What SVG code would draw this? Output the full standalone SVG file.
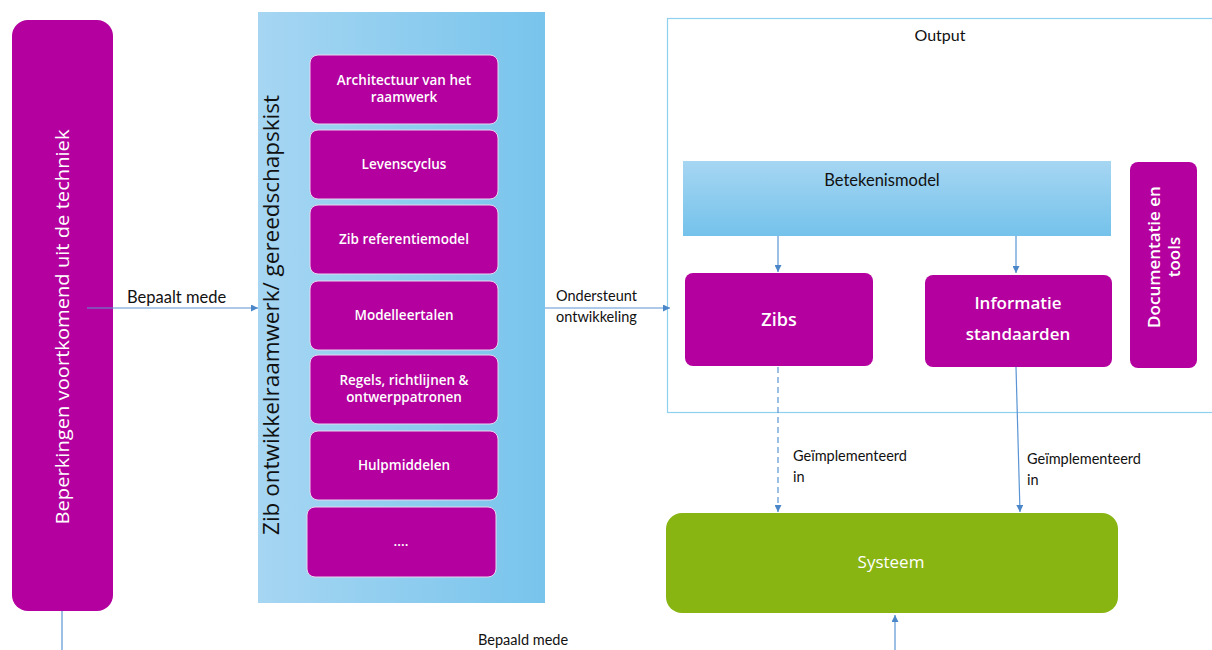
<svg xmlns="http://www.w3.org/2000/svg" width="1212" height="650" viewBox="0 0 1212 650">
<defs>
<linearGradient id="gH" x1="0" y1="0" x2="1" y2="0"><stop offset="0" stop-color="#a6d6f2"/><stop offset="1" stop-color="#78c4ec"/></linearGradient>
<linearGradient id="gV" x1="0" y1="0" x2="0" y2="1"><stop offset="0" stop-color="#a6d6f2"/><stop offset="1" stop-color="#74c2eb"/></linearGradient>
<marker id="ah" viewBox="0 0 10 10" refX="10" refY="5" markerWidth="7" markerHeight="7" markerUnits="userSpaceOnUse" orient="auto"><path d="M0,0 L10,5 L0,10 z" fill="#4a86c8"/></marker>
<style>
.p{fill:#b4009e}
.w{fill:#fff;font-family:"Open Sans","Noto Sans",sans-serif;text-anchor:middle}
.s{font-weight:600}
.b{fill:#111;font-family:Lato,"Liberation Sans",sans-serif}
.c{stroke:#5a94d4;stroke-width:1.2;fill:none;marker-end:url(#ah)}
.in{stroke:#e8d6f0;stroke-width:1}
</style>
</defs>
<rect width="1212" height="650" fill="#fff"/>

<g id="output-frame">
<rect x="667.5" y="18.5" width="560" height="394" fill="none" stroke="#8fd0ee" stroke-width="1.2"/>
<text class="b" x="940" y="41" font-size="16" text-anchor="middle">Output</text>
</g>

<g id="beperkingen">
<rect class="p" x="12" y="20" width="101" height="591" rx="16"/>
<text class="w" font-size="19" textLength="395" lengthAdjust="spacingAndGlyphs" transform="translate(69,327) rotate(-90)">Beperkingen voortkomend uit de techniek</text>
</g>

<g id="raamwerk">
<rect x="258" y="12" width="287" height="591" fill="url(#gH)"/>
<text fill="#111" font-family="'Open Sans','Noto Sans',sans-serif" font-size="21" textLength="440" lengthAdjust="spacingAndGlyphs" text-anchor="middle" transform="translate(279,315) rotate(-90)">Zib ontwikkelraamwerk/ gereedschapskist</text>
</g>

<g id="architectuur"><rect class="p in" x="310" y="55" width="188" height="69" rx="8"/><text class="w s" font-size="13.5"><tspan x="404" y="85">Architectuur van het</tspan><tspan x="404" y="102">raamwerk</tspan></text></g>
<g id="levenscyclus"><rect class="p in" x="310" y="130" width="188" height="69" rx="8"/><text class="w s" font-size="13.5" x="404" y="169">Levenscyclus</text></g>
<g id="referentiemodel"><rect class="p in" x="310" y="205" width="188" height="69" rx="8"/><text class="w s" font-size="13.5" x="404" y="244">Zib referentiemodel</text></g>
<g id="modelleertalen"><rect class="p in" x="310" y="281" width="188" height="69" rx="8"/><text class="w s" font-size="13.5" x="404" y="320">Modelleertalen</text></g>
<g id="regels"><rect class="p in" x="310" y="355" width="188" height="69" rx="8"/><text class="w s" font-size="13.5"><tspan x="404" y="385">Regels, richtlijnen &amp;</tspan><tspan x="404" y="402">ontwerppatronen</tspan></text></g>
<g id="hulpmiddelen"><rect class="p in" x="310" y="431" width="188" height="69" rx="8"/><text class="w s" font-size="13.5" x="404" y="470">Hulpmiddelen</text></g>
<g id="meer"><rect class="p in" x="307" y="507" width="189" height="70" rx="8"/><text class="w s" font-size="13.5" x="401" y="546">....</text></g>

<g id="betekenismodel">
<rect x="683" y="161" width="428" height="75" fill="url(#gV)"/>
<text class="b" x="882" y="186" font-size="16.5" text-anchor="middle">Betekenismodel</text>
</g>
<g id="zibs"><rect class="p" x="685" y="273" width="188" height="93" rx="8"/><text class="w s" font-size="18" x="779" y="326">Zibs</text></g>
<g id="informatiestandaarden"><rect class="p" x="925" y="275" width="187" height="92" rx="8"/><text class="w s" font-size="17"><tspan x="1018" y="309">Informatie</tspan><tspan x="1018" y="340">standaarden</tspan></text></g>
<g id="documentatie"><rect class="p" x="1130" y="162" width="67" height="206" rx="8"/><text class="w s" font-size="17" transform="translate(1164,257) rotate(-90)"><tspan x="0" y="-4">Documentatie en</tspan><tspan x="0" y="16">tools</tspan></text></g>
<g id="systeem"><rect x="666" y="513" width="452" height="100" rx="16" fill="#88b512"/><text class="w" font-size="17" x="891" y="568">Systeem</text></g>

<g id="connectors">
<path class="c" d="M87,308 H258"/>
<path class="c" d="M545,308 H670"/>
<path class="c" d="M778,236 V272"/>
<path class="c" d="M1016,236 V273"/>
<path class="c" d="M778,367 V512" stroke-dasharray="6,4"/>
<path class="c" d="M1016,367 L1020,512"/>
<path class="c" d="M895,650 V615"/>
<path d="M62,611 V650" stroke="#5a94d4" stroke-width="1.2"/>
</g>

<g id="labels">
<text class="b" x="127" y="303" font-size="16.5">Bepaalt mede</text>
<text class="b" font-size="14.5"><tspan x="556" y="301">Ondersteunt</tspan><tspan x="556" y="322">ontwikkeling</tspan></text>
<text class="b" font-size="14.5"><tspan x="793" y="461">Geïmplementeerd</tspan><tspan x="793" y="482">in</tspan></text>
<text class="b" font-size="14.5"><tspan x="1027" y="464">Geïmplementeerd</tspan><tspan x="1027" y="485">in</tspan></text>
<text class="b" x="478" y="645" font-size="14.5">Bepaald mede</text>
</g>
</svg>
